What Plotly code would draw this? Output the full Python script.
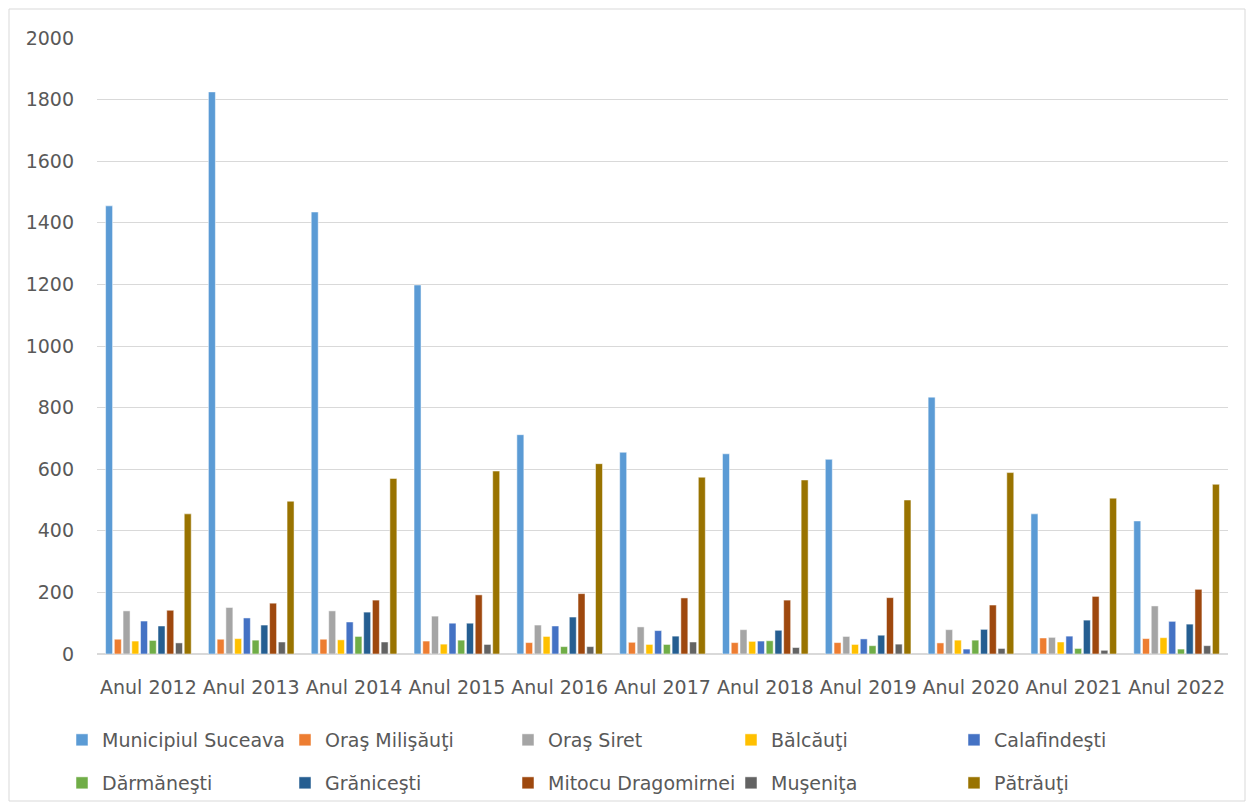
import plotly.graph_objects as go

years = ["Anul 2012", "Anul 2013", "Anul 2014", "Anul 2015", "Anul 2016", "Anul 2017",
         "Anul 2018", "Anul 2019", "Anul 2020", "Anul 2021", "Anul 2022"]

suceava = [1455, 1825, 1435, 1198, 712, 655, 650, 632, 834, 455, 432]
milisauti = [48, 48, 48, 42, 37, 38, 37, 37, 36, 52, 50]
siret = [140, 151, 140, 123, 94, 88, 79, 57, 79, 54, 156]
balcauti = [42, 50, 46, 32, 57, 31, 41, 31, 45, 39, 53]
calafindesti = [107, 117, 104, 100, 91, 76, 42, 49, 16, 58, 106]
darmanesti = [44, 45, 57, 45, 24, 31, 43, 27, 45, 18, 16]
granicesti = [91, 94, 136, 100, 120, 58, 77, 61, 80, 110, 97]
mitocu = [142, 165, 175, 192, 196, 182, 175, 183, 159, 187, 210]
musenita = [36, 39, 39, 31, 24, 39, 21, 32, 18, 12, 27]
patrauti = [455, 496, 570, 594, 618, 574, 565, 500, 589, 506, 551]

series = [
    ("Municipiul Suceava", suceava, "#5B9BD5"),
    ("Oraş Milişăuţi", milisauti, "#ED7D31"),
    ("Oraş Siret", siret, "#A5A5A5"),
    ("Bălcăuţi", balcauti, "#FFC000"),
    ("Calafindeşti", calafindesti, "#4472C4"),
    ("Dărmăneşti", darmanesti, "#70AD47"),
    ("Grăniceşti", granicesti, "#255E91"),
    ("Mitocu Dragomirnei", mitocu, "#9E480E"),
    ("Muşeniţa", musenita, "#636363"),
    ("Pătrăuţi", patrauti, "#997300"),
]

fig = go.Figure()
for i, (name, vals, col) in enumerate(series):
    fig.add_trace(go.Bar(x=years, y=vals, name=name,
                         legend="legend" if i < 5 else "legend2",
                         marker=dict(color=col, line=dict(color="white", width=0.5))))

# the page body adds an 8px offset, so the figure is a bit smaller than the window
OFF = 8
W, H = 1239, 795
L, R, T, B = 89, 19, 30, 149
pw, ph = W - L - R, H - T - B

def px_x(p):
    return (p - OFF - L) / pw

def px_y(p):
    return (H - B - (p - OFF)) / ph

legend_style = dict(orientation="h", xref="container", yref="container",
                    x=54 / W, xanchor="left", yanchor="middle",
                    entrywidth=178, entrywidthmode="pixels", itemwidth=30,
                    font=dict(size=19, color="#595959"), traceorder="normal",
                    bgcolor="rgba(0,0,0,0)")

fig.update_layout(
    width=W, height=H,
    margin=dict(l=L, r=R, t=T, b=B, autoexpand=False),
    plot_bgcolor="white", paper_bgcolor="white",
    font=dict(family="DejaVu Sans", size=18, color="#595959"),
    barmode="group", bargap=0.15, bargroupgap=0.2,
    legend=dict(legend_style, y=1 - (740 - OFF) / H),
    legend2=dict(legend_style, y=1 - (783 - OFF) / H),
    shapes=[dict(type="rect", xref="paper", yref="paper",
                 x0=px_x(9), x1=px_x(1245), y0=px_y(801), y1=px_y(9),
                 line=dict(color="#d9d9d9", width=1), fillcolor="rgba(0,0,0,0)", layer="below")],
)
fig.update_yaxes(range=[0, 2000], dtick=200, showgrid=True, gridcolor="#d9d9d9", gridwidth=1,
                 zeroline=True, zerolinecolor="#d9d9d9", showline=False, ticks="",
                 ticklabelstandoff=22, tickfont=dict(size=19))
fig.update_xaxes(showline=True, linecolor="#d9d9d9", linewidth=1, ticks="",
                 ticklabelstandoff=16, tickangle=0, tickfont=dict(size=19))

fig.write_html("out.html")
